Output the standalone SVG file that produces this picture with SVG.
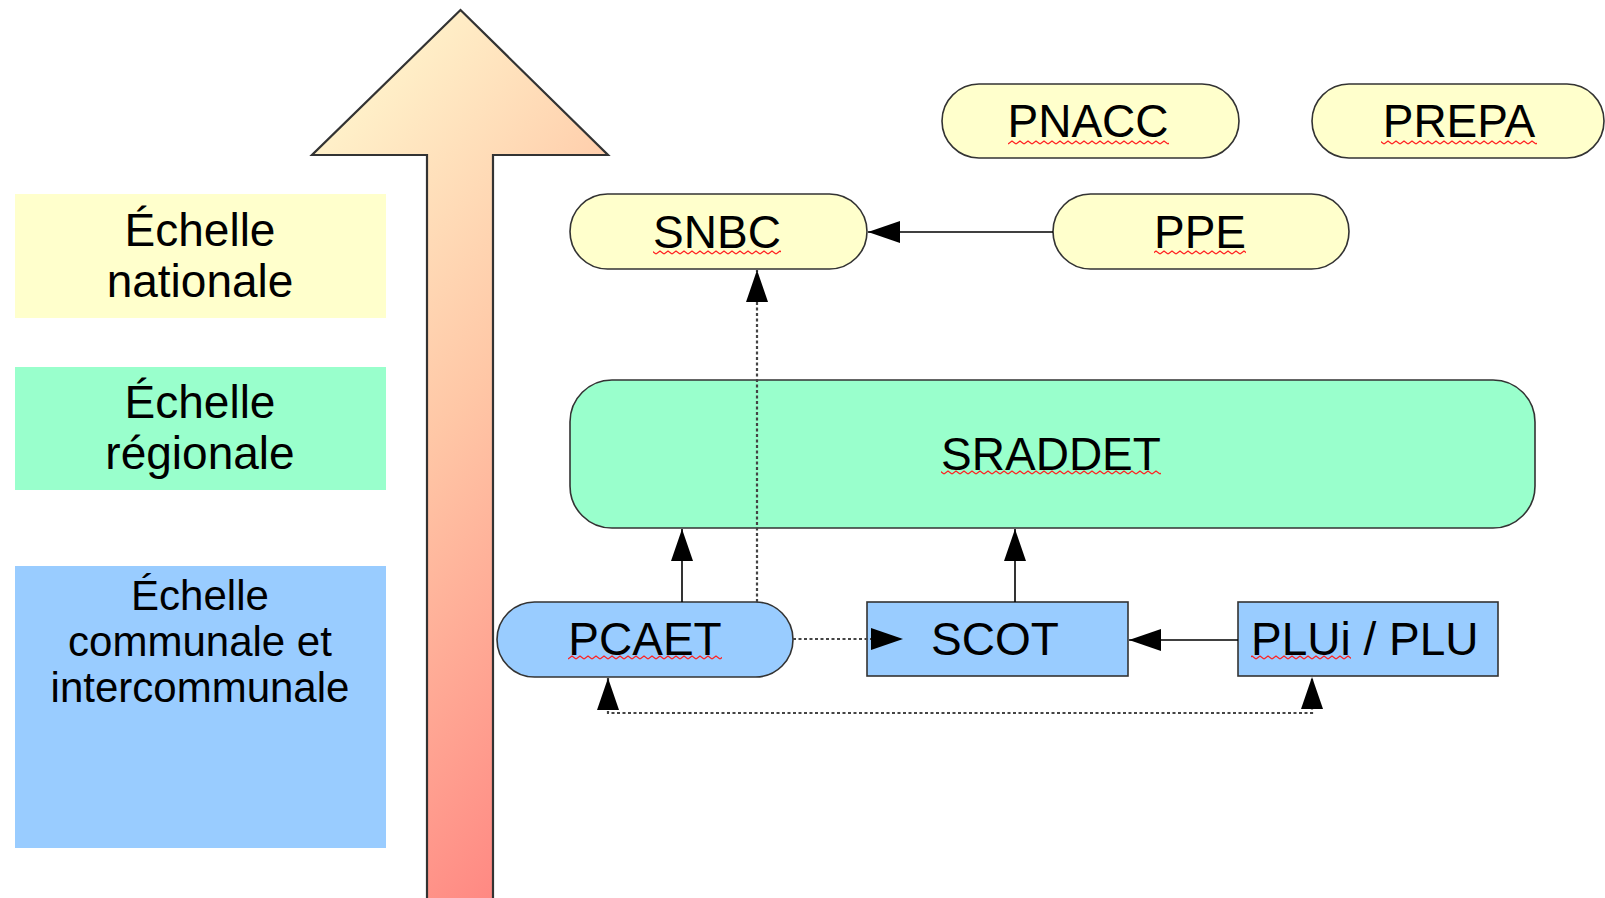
<svg xmlns="http://www.w3.org/2000/svg" width="1605" height="898" viewBox="0 0 1605 898">
  <style>
    .lbl { font-family: "Liberation Sans", Arial, sans-serif; fill: #000; text-anchor: middle; }
    .node { font-size: 46px; }
    .legend { font-size: 46px; }
    .legend-sm { font-size: 42px; }
    .cap { stroke: #333; stroke-width: 1.6; }
    .yel { fill: #FFFFCC; }
    .grn { fill: #99FFCC; }
    .blu { fill: #99CCFF; }
    .solid { fill: none; stroke: #000; stroke-width: 1.6; }
    .dot { fill: none; stroke: #444; stroke-width: 2.2; stroke-dasharray: 3 2.5; }
    .spell { fill: url(#wave); }
  </style>
  <defs>
    <linearGradient id="rise" x1="0.3" y1="0" x2="0.7" y2="1">
      <stop offset="0" stop-color="#FFF4CC"/>
      <stop offset="0.45" stop-color="#FFC7A6"/>
      <stop offset="1" stop-color="#FF8480"/>
    </linearGradient>
    <pattern id="wave" width="8" height="5" patternUnits="userSpaceOnUse">
      <path d="M0 4 L4 1 L8 4" fill="none" stroke="#FF2020" stroke-width="1.3"/>
    </pattern>
    <marker id="head" markerUnits="userSpaceOnUse" markerWidth="34" markerHeight="22" refX="32" refY="11" orient="auto-start-reverse">
      <path d="M0 0 L32 11 L0 22 Z" fill="#000"/>
    </marker>
  </defs>

  <rect width="1605" height="898" fill="#fff"/>

  <!-- scale arrow -->
  <g id="scale-arrow">
    <path d="M460.5 10 L608 155 L493 155 L493 905 L427 905 L427 155 L312 155 Z" fill="url(#rise)" stroke="#333" stroke-width="2.2" stroke-linejoin="miter"/>
  </g>

  <!-- legend -->
  <g id="legend-national">
    <rect x="15" y="194" width="371" height="124" class="yel"/>
    <text class="lbl legend" x="200" y="246">Échelle</text>
    <text class="lbl legend" x="200" y="297">nationale</text>
  </g>
  <g id="legend-regional">
    <rect x="15" y="367" width="371" height="123" class="grn"/>
    <text class="lbl legend" x="200" y="418">Échelle</text>
    <text class="lbl legend" x="200" y="469">régionale</text>
  </g>
  <g id="legend-communal">
    <rect x="15" y="566" width="371" height="282" class="blu"/>
    <text class="lbl legend-sm" x="200" y="610">Échelle</text>
    <text class="lbl legend-sm" x="200" y="656">communale et</text>
    <text class="lbl legend-sm" x="200" y="702">intercommunale</text>
  </g>

  <!-- national plans -->
  <g id="pnacc">
    <rect x="942" y="84" width="297" height="74" rx="37" class="yel cap"/>
    <text class="lbl node" x="1088" y="137">PNACC</text>
    <rect x="1008" y="140" width="161" height="5" class="spell"/>
  </g>
  <g id="prepa">
    <rect x="1312" y="84" width="292" height="74" rx="37" class="yel cap"/>
    <text class="lbl node" x="1459" y="137">PREPA</text>
    <rect x="1381" y="140" width="156" height="5" class="spell"/>
  </g>
  <g id="snbc">
    <rect x="570" y="194" width="297" height="75" rx="37.5" class="yel cap"/>
    <text class="lbl node" x="717" y="248">SNBC</text>
    <rect x="653" y="250" width="128" height="5" class="spell"/>
  </g>
  <g id="ppe">
    <rect x="1053" y="194" width="296" height="75" rx="37.5" class="yel cap"/>
    <text class="lbl node" x="1200" y="248">PPE</text>
    <rect x="1154" y="250" width="92" height="5" class="spell"/>
  </g>

  <!-- regional plan -->
  <g id="sraddet">
    <rect x="570" y="380" width="965" height="148" rx="42" class="grn cap"/>
    <text class="lbl node" x="1051" y="470">SRADDET</text>
    <rect x="941" y="470" width="220" height="5" class="spell"/>
  </g>

  <!-- local plans -->
  <g id="pcaet">
    <rect x="497" y="602" width="296" height="75" rx="37.5" class="blu cap"/>
    <text class="lbl node" x="645" y="655">PCAET</text>
    <rect x="568" y="655" width="154" height="5" class="spell"/>
  </g>
  <g id="scot">
    <rect x="867" y="602" width="261" height="74" class="blu cap"/>
    <text class="lbl node" x="995" y="655">SCOT</text>
  </g>
  <g id="plu">
    <rect x="1238" y="602" width="260" height="74" class="blu cap"/>
    <text class="lbl node" x="1251" y="655" style="text-anchor:start">PLUi / PLU</text>
    <rect x="1251" y="655" width="100" height="5" class="spell"/>
  </g>

  <!-- connectors -->
  <g id="connectors">
    <path class="solid" d="M1053 232 L868 232" marker-end="url(#head)"/>
    <path class="dot" d="M757 602 L757 270" marker-end="url(#head)"/>
    <path class="solid" d="M682 602 L682 529" marker-end="url(#head)"/>
    <path class="solid" d="M1015 602 L1015 529" marker-end="url(#head)"/>
    <path class="dot" d="M793 639 L903 639" marker-end="url(#head)"/>
    <path class="solid" d="M1238 640 L1129 640" marker-end="url(#head)"/>
    <path class="dot" d="M608 678 L608 713 L1312 713 L1312 677" marker-start="url(#head)" marker-end="url(#head)"/>
  </g>
</svg>
